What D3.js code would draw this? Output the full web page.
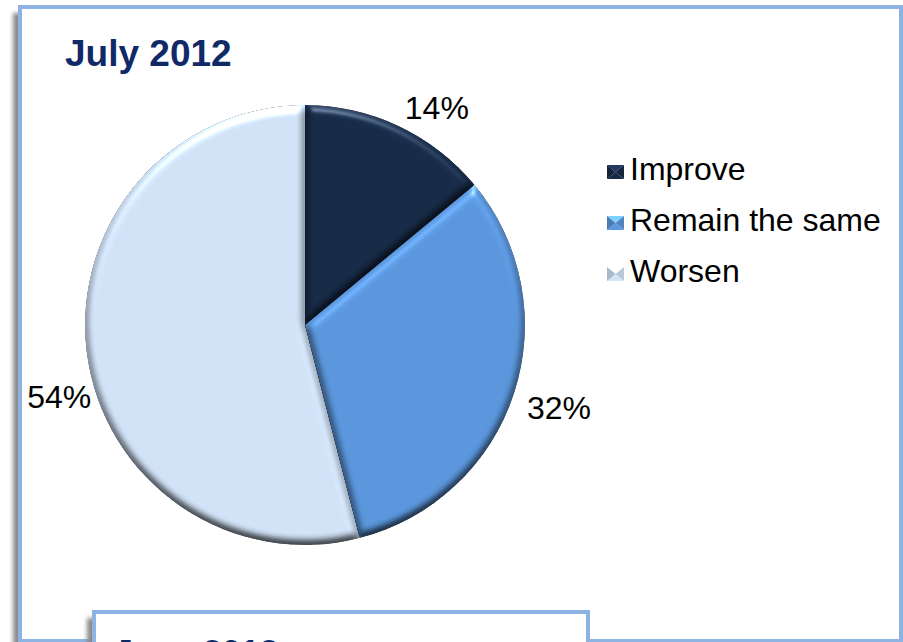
<!DOCTYPE html>
<html>
<head>
<meta charset="utf-8">
<script src="https://cdn.jsdelivr.net/npm/d3@7"></script>
<style>
  html, body { margin: 0; padding: 0; background: #fff; }
  svg { display: block; }
  text { font-family: Arial, "Liberation Sans", sans-serif; }
</style>
</head>
<body>
<svg id="chart" width="903" height="642"></svg>
<script>
// Survey outlook, July 2012
const categories = ["Improve", "Remain the same", "Worsen"];
const shares = [14, 32, 54];
const sliceColors = ["#172b47", "#5b97dd", "#d2e3f8"];
const titleText = "July 2012";
const nextPanelTitle = "June 2012";

const svg = d3.select("#chart");
const frameBlue = "#8db3e2";

const defs = svg.append("defs");

// soft grey shadow used behind the panels
const shadow = defs.append("filter").attr("id", "panelShadow")
  .attr("x", "-5%").attr("y", "-5%").attr("width", "110%").attr("height", "110%");
shadow.append("feGaussianBlur").attr("stdDeviation", 2);

// rounded bevel for the pie slices: lighting from the top of the page
const lightAz = 270, lightEl = 62, bevelBlur = 4, bevelHeight = 5.5;
const bevel = defs.append("filter").attr("id", "bevel")
  .attr("x", "-10%").attr("y", "-10%").attr("width", "120%").attr("height", "120%")
  .attr("color-interpolation-filters", "sRGB");
bevel.append("feGaussianBlur").attr("in", "SourceAlpha").attr("stdDeviation", bevelBlur).attr("result", "blur");
const diff = bevel.append("feDiffuseLighting").attr("in", "blur")
  .attr("surfaceScale", bevelHeight).attr("diffuseConstant", 0.5 / Math.sin(lightEl * Math.PI / 180))
  .attr("lighting-color", "#ffffff").attr("result", "diff");
diff.append("feDistantLight").attr("azimuth", lightAz).attr("elevation", lightEl);
bevel.append("feComposite").attr("in", "SourceGraphic").attr("in2", "diff")
  .attr("operator", "arithmetic").attr("k1", 2).attr("k2", 0).attr("k3", 0).attr("k4", 0)
  .attr("result", "lit");
const spec = bevel.append("feSpecularLighting").attr("in", "blur")
  .attr("surfaceScale", bevelHeight).attr("specularConstant", 0.3).attr("specularExponent", 30)
  .attr("lighting-color", "#ffffff").attr("result", "spec");
spec.append("feDistantLight").attr("azimuth", lightAz).attr("elevation", 30);
bevel.append("feComposite").attr("in", "spec").attr("in2", "SourceAlpha")
  .attr("operator", "in").attr("result", "specIn");
bevel.append("feComposite").attr("in", "lit").attr("in2", "specIn")
  .attr("operator", "arithmetic").attr("k1", 0).attr("k2", 1).attr("k3", 1).attr("k4", 0)
  .attr("result", "sum");
bevel.append("feComposite").attr("in", "sum").attr("in2", "SourceAlpha").attr("operator", "in");

// ---- panels ----
const frame = { x: 20, y: 7, w: 881, h: 634 };
svg.append("rect")
  .attr("x", frame.x - 7).attr("y", frame.y + 6)
  .attr("width", frame.w).attr("height", frame.h)
  .attr("fill", "#8a8a8a").attr("filter", "url(#panelShadow)");
svg.append("rect")
  .attr("x", frame.x).attr("y", frame.y)
  .attr("width", frame.w).attr("height", frame.h)
  .attr("fill", "#fff").attr("stroke", frameBlue).attr("stroke-width", 4);

svg.append("text")
  .attr("x", 65).attr("y", 66)
  .attr("font-size", 37).attr("font-weight", "bold")
  .attr("fill", "#0f2a66")
  .text(titleText);

// ---- pie ----
const cx = 305, cy = 325, radius = 220;
const pie = d3.pie().sort(null).value(d => d.value);
const arcs = pie(categories.map((c, i) => ({ name: c, value: shares[i], color: sliceColors[i] })));
const arc = d3.arc().innerRadius(0).outerRadius(radius);

const gPie = svg.append("g").attr("transform", `translate(${cx},${cy})`);
// dark disc underneath so the seams between slices read as thin dark lines
gPie.append("circle").attr("r", radius - 1.5).attr("fill", "#2b3546");
gPie.selectAll("path.slice")
  .data(arcs)
  .join("path")
  .attr("class", "slice")
  .attr("d", arc)
  .attr("fill", d => d.data.color)
  .attr("filter", "url(#bevel)");

// percentage labels sit just outside the rim
const labelFont = 32;
const labelNudgeDeg = [6, 0, -9];
const labelPad = [8, 13, 2];
gPie.selectAll("text.pct")
  .data(arcs)
  .join("text")
  .attr("class", "pct")
  .attr("font-size", labelFont)
  .attr("fill", "#000")
  .attr("text-anchor", "middle")
  .text(d => d.data.value + "%")
  .each(function (d, i) {
    const a = (d.startAngle + d.endAngle) / 2 + labelNudgeDeg[i] * Math.PI / 180;
    const bb = this.getBBox();
    const s = Math.sin(a), c = -Math.cos(a);
    const r = radius + labelPad[i] + Math.abs(s) * bb.width / 2 + Math.abs(c) * labelFont * 0.36;
    d3.select(this)
      .attr("x", r * s)
      .attr("y", r * c + labelFont * 0.36);
  });

// ---- legend ----
const legend = svg.append("g").attr("transform", "translate(607,165)");
const sw = 17, sh = 14, rowGap = 51;
const rows = legend.selectAll("g.row")
  .data(categories)
  .join("g")
  .attr("class", "row")
  .attr("transform", (d, i) => `translate(0,${i * rowGap})`);

// pyramid-style swatch: four shaded triangles
const facets = [
  { pts: [[0, 0], [sw, 0], [sw / 2, sh / 2]], k: 0.45 },
  { pts: [[sw, 0], [sw, sh], [sw / 2, sh / 2]], k: -0.35 },
  { pts: [[sw, sh], [0, sh], [sw / 2, sh / 2]], k: 0.0 },
  { pts: [[0, sh], [0, 0], [sw / 2, sh / 2]], k: -0.6 }
];
rows.each(function (d, i) {
  const base = d3.color(sliceColors[i]);
  d3.select(this).selectAll("path")
    .data(facets)
    .join("path")
    .attr("d", f => "M" + f.pts.map(p => p.join(",")).join("L") + "Z")
    .attr("fill", f => f.k >= 0 ? base.brighter(f.k * 2).formatHex() : base.darker(-f.k).formatHex());
});
rows.append("text")
  .attr("x", 23).attr("y", sh + 1)
  .attr("font-size", 32)
  .attr("fill", "#000")
  .text(d => d);

// ---- next panel peeking in at the bottom ----
const panel2 = { x: 94, y: 612, w: 494, h: 120 };
svg.append("rect")
  .attr("x", panel2.x - 7).attr("y", panel2.y + 6)
  .attr("width", panel2.w).attr("height", panel2.h)
  .attr("fill", "#8a8a8a").attr("filter", "url(#panelShadow)");
svg.append("rect")
  .attr("x", panel2.x).attr("y", panel2.y)
  .attr("width", panel2.w).attr("height", panel2.h)
  .attr("fill", "#fff").attr("stroke", frameBlue).attr("stroke-width", 4);
svg.append("text")
  .attr("x", 114).attr("y", 663)
  .attr("font-size", 34).attr("font-weight", "bold")
  .attr("fill", "#0f2a66")
  .text(nextPanelTitle);
</script>
</body>
</html>
